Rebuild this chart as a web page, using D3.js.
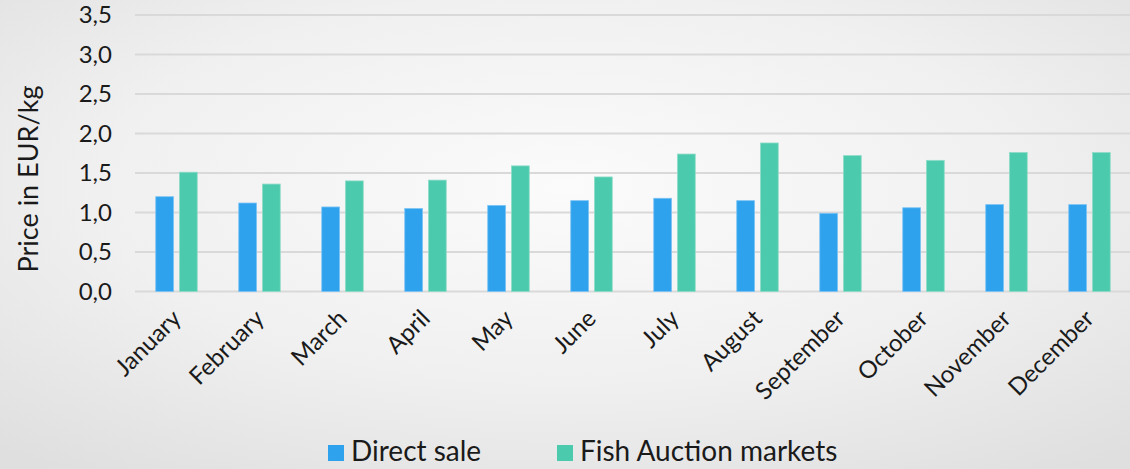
<!DOCTYPE html>
<html>
<head>
<meta charset="utf-8">
<script src="https://cdn.jsdelivr.net/npm/d3@7"></script>
<style>
  html, body { margin: 0; padding: 0; }
  body { width: 1130px; height: 469px; overflow: hidden; }
  svg { display: block; font-family: "Lato", sans-serif; }
</style>
</head>
<body>
<div id="content"></div>
<script>
// Data.
var months = ['January', 'February', 'March', 'April', 'May', 'June',
              'July', 'August', 'September', 'October', 'November', 'December'];
var series = ['Direct sale', 'Fish Auction markets'];
var directSale = [1.20, 1.12, 1.07, 1.05, 1.09, 1.15, 1.18, 1.15, 0.99, 1.06, 1.10, 1.10];
var auctionMarkets = [1.51, 1.36, 1.40, 1.41, 1.59, 1.45, 1.74, 1.88, 1.72, 1.66, 1.76, 1.76];
var yTicks = [0, 0.5, 1, 1.5, 2, 2.5, 3, 3.5];
var colors = ['#2fa2ee', '#4bcaad'];

var width = 1130, height = 469;
var plot = {left: 135, right: 1131, top: 15, bottom: 291.5};

var svg = d3.select('#content')
              .append('svg')
              .attr('width', width)
              .attr('height', height);

// Soft grey background.
var grad = svg.append('defs').append('radialGradient')
    .attr('id', 'bg').attr('cx', '50%').attr('cy', '40%').attr('r', '75%');
grad.append('stop').attr('offset', '0%').attr('stop-color', '#fbfbfb');
grad.append('stop').attr('offset', '55%').attr('stop-color', '#f0f0f0');
grad.append('stop').attr('offset', '100%').attr('stop-color', '#dfdfdf');
svg.append('rect').attr('width', width).attr('height', height).attr('fill', 'url(#bg)');

var locale = d3.formatLocale({decimal: ',', thousands: '.', grouping: [3], currency: ['', '€']});
var fmt = locale.format('.1f');

// Scales.
var x0 = d3.scaleBand().domain(months).range([plot.left, plot.right])
             .paddingInner(0.5).paddingOuter(0.25);
var x1 = d3.scaleBand().domain(series).range([0, x0.bandwidth()]).paddingInner(0.25);
var y = d3.scaleLinear().domain([0, 3.5]).range([plot.bottom, plot.top]);

// Gridlines.
svg.append('g')
    .selectAll('line')
    .data(yTicks)
    .join('line')
    .attr('x1', plot.left).attr('x2', plot.right)
    .attr('y1', function(d) { return y(d); })
    .attr('y2', function(d) { return y(d); })
    .attr('stroke', '#d9d9d9')
    .attr('stroke-width', 2);

// Y axis labels.
var yAxis = svg.append('g')
    .attr('transform', 'translate(' + 112 + ',0)')
    .call(d3.axisLeft(y).tickValues(yTicks).tickFormat(fmt).tickSize(0).tickPadding(0));
yAxis.select('.domain').remove();
yAxis.selectAll('text')
    .attr('font-size', 24)
    .attr('font-family', 'Lato, sans-serif')
    .attr('fill', '#1a1a1a');

// Y axis title.
svg.append('text')
    .attr('transform', 'translate(' + 38 + ',' + 179 + ') rotate(-90)')
    .attr('text-anchor', 'middle')
    .attr('font-size', 27)
    .attr('fill', '#1a1a1a')
    .text('Price in EUR/kg');

// Bars.
var rows = months.map(function(m, i) {
  return {month: m, values: [directSale[i], auctionMarkets[i]]};
});

var groups = svg.append('g')
    .selectAll('g')
    .data(rows)
    .join('g')
    .attr('transform', function(d) { return 'translate(' + x0(d.month) + ',0)'; });

groups.selectAll('rect')
    .data(function(d) {
      return d.values.map(function(v, j) { return {key: series[j], value: v, j: j}; });
    })
    .join('rect')
    .attr('x', function(d) { return x1(d.key); })
    .attr('y', function(d) { return y(d.value); })
    .attr('width', x1.bandwidth())
    .attr('height', function(d) { return y(0) - y(d.value); })
    .attr('fill', function(d) { return colors[d.j]; })
    .attr('stroke', function(d) { return d.j === 0 ? '#7cc4f3' : '#8fdcc8'; })
    .attr('stroke-width', 0.8);

// X axis labels.
svg.append('g')
    .selectAll('text')
    .data(months)
    .join('text')
    .attr('transform', function(d) {
      return 'translate(' + (x0(d) + x0.bandwidth() / 2 + 6) + ',' + 320 + ') rotate(-45)';
    })
    .attr('text-anchor', 'end')
    .attr('font-size', 24)
    .attr('fill', '#1a1a1a')
    .text(function(d) { return d; });

// Legend.
var legendX = [328, 557];
var legend = svg.append('g')
    .selectAll('g')
    .data(series)
    .join('g')
    .attr('transform', function(d, i) { return 'translate(' + legendX[i] + ',' + 445 + ')'; });

legend.append('rect')
    .attr('width', 16).attr('height', 16)
    .attr('fill', function(d, i) { return colors[i]; });

legend.append('text')
    .attr('x', 23).attr('y', 16)
    .attr('font-size', 28)
    .attr('fill', '#1a1a1a')
    .text(function(d) { return d; });
</script>
</body>
</html>
